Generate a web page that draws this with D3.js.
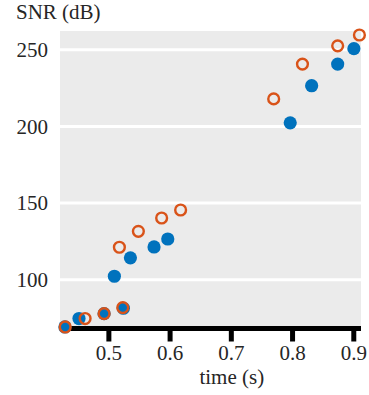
<!DOCTYPE html>
<html>
<head>
<meta charset="utf-8">
<script src="https://cdn.jsdelivr.net/npm/d3@7"></script>
<style>
  html, body { margin: 0; padding: 0; background: #fff; }
  svg { display: block; }
</style>
</head>
<body>
<svg id="chart" width="369" height="395"></svg>
<script>
// Measurement times (s) and SNR (dB) for the two series
const blueTime = [0.429, 0.452, 0.493, 0.5245, 0.5098, 0.536, 0.5746, 0.597, 0.797, 0.832, 0.8745, 0.901];
const blueSNR  = [69.2, 74.7, 77.9, 81.4, 102.3, 114.3, 121.4, 126.6, 202.4, 226.6, 240.7, 250.8];
const orangeTime = [0.4295, 0.462, 0.493, 0.5235, 0.518, 0.549, 0.587, 0.618, 0.77, 0.817, 0.8745, 0.91];
const orangeSNR  = [69.2, 74.7, 77.9, 81.8, 121.2, 131.6, 140.3, 145.5, 218.0, 240.7, 252.6, 259.7];
const xTicks = [0.5, 0.6, 0.7, 0.8, 0.9];
const yTicks = [100, 150, 200, 250];

const FONT = "'Liberation Serif', 'Times New Roman', serif";
const FONT_SIZE = 21;
const TEXT_COLOR = "#262626";

// apply the serif label style to a text selection
function labelStyle(sel) {
  sel.attr("font-size", FONT_SIZE)
    .attr("fill", TEXT_COLOR)
    .style("font-family", FONT);
}

const svg = d3.select("#chart");
const plotLeft = 60, plotRight = 361, plotTop = 31, plotBottom = 328.5;

const x = d3.scaleLinear().domain([0.421, 0.9126]).range([plotLeft, plotRight]);
const y = d3.scaleLinear().domain([68.2, 262.3]).range([plotBottom, plotTop]);

// plot background
svg.append("rect")
  .attr("x", plotLeft).attr("y", plotTop)
  .attr("width", plotRight - plotLeft).attr("height", plotBottom - plotTop)
  .attr("fill", "#ebebeb");

// horizontal grid lines
svg.append("g").selectAll("line").data(yTicks).join("line")
  .attr("x1", plotLeft).attr("x2", plotRight)
  .attr("y1", d => y(d)).attr("y2", d => y(d))
  .attr("stroke", "#fff").attr("stroke-width", 3);

// y tick labels (no axis line)
svg.append("g").selectAll("text").data(yTicks).join("text")
  .attr("x", 48).attr("y", d => y(d))
  .attr("dy", "0.34em")
  .attr("text-anchor", "end")
  .call(labelStyle)
  .text(d => d);

// y axis title
svg.append("text")
  .attr("x", 16).attr("y", 19)
  .call(labelStyle)
  .text("SNR (dB)");

// x axis
const xAxis = d3.axisBottom(x).tickValues(xTicks).tickSize(13).tickPadding(4)
  .tickFormat(d3.format(".1f"));
const gx = svg.append("g").attr("transform", `translate(0,${plotBottom})`).call(xAxis);
gx.attr("font-family", null);
gx.select(".domain").remove();
gx.selectAll(".tick line").attr("stroke", "#000").attr("stroke-width", 5);
gx.selectAll(".tick text").call(labelStyle);
gx.append("line")
  .attr("x1", plotLeft).attr("x2", plotRight)
  .attr("y1", 0).attr("y2", 0)
  .attr("stroke", "#000").attr("stroke-width", 5);

svg.append("text")
  .attr("x", (x(0.5) + x(0.9)) / 2 + 1).attr("y", 384)
  .attr("text-anchor", "middle")
  .call(labelStyle)
  .text("time (s)");

// filled blue markers
svg.append("g").selectAll("circle").data(d3.zip(blueTime, blueSNR)).join("circle")
  .attr("cx", d => x(d[0])).attr("cy", d => y(d[1]))
  .attr("r", 6.6)
  .attr("fill", "#0072BD");

// open orange markers
svg.append("g").selectAll("circle").data(d3.zip(orangeTime, orangeSNR)).join("circle")
  .attr("cx", d => x(d[0])).attr("cy", d => y(d[1]))
  .attr("r", 5.4)
  .attr("fill", "none")
  .attr("stroke", "#D95319")
  .attr("stroke-width", 2.4);
</script>
</body>
</html>
